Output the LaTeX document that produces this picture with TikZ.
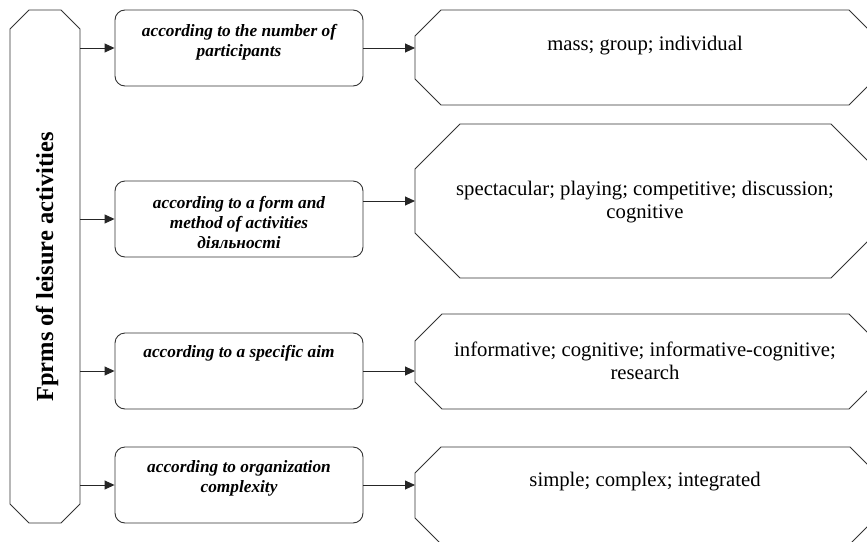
\documentclass[tikz,border=0pt]{standalone}
\usepackage{fontspec}
\setmainfont{Liberation Serif}
\usetikzlibrary{arrows.meta,calc}

% Octagonal outline drawn around a (borderless) rectangular node
\newcommand\chamferbox[2]{%
  \draw[frame] ($(#1.north west)+(#2,0)$) -- ($(#1.north east)+(-#2,0)$)
    -- ($(#1.north east)+(0,#2)$) -- ($(#1.south east)+(0,-#2)$)
    -- ($(#1.south east)+(-#2,0)$) -- ($(#1.south west)+(#2,0)$)
    -- ($(#1.south west)+(0,-#2)$) -- ($(#1.north west)+(0,#2)$) -- cycle;}

\begin{document}
\begin{tikzpicture}[x=1pt,y=-1pt,
  frame/.style={draw=black!80,line width=0.9pt},
  area/.style={inner sep=0pt,outer sep=0pt,minimum width=#1},
  midbox/.style={frame,rounded corners=10pt,inner sep=0pt,minimum width=248pt,minimum height=76pt},
  midtext/.style={align=center,inner sep=0pt,font=\fontsize{17.3}{20}\selectfont\bfseries\itshape},
  kindtext/.style={align=center,inner sep=0pt,font=\fontsize{20.7}{23}\selectfont},
  link/.style={draw=black!85,line width=0.9pt,-{Triangle[length=10pt,width=9pt]}}
]
\useasboundingbox (0,0) rectangle (867,541);

% root block
\node[area=70pt,minimum height=513pt] (root) at (45,266.5) {};
\chamferbox{root}{19}
\node[rotate=90,inner sep=0pt,font=\fontsize{24.5}{28}\selectfont\bfseries] (roottext) at (47,267) {Fprms of leisure activities};

% criteria
\node[midbox] (c1) at (239,48) {};
\node[midbox] (c2) at (239,219) {};
\node[midbox] (c3) at (239,371) {};
\node[midbox] (c4) at (239,485) {};
\node[midtext] (t1) at (239,42) {according to the number of\\participants};
\node[midtext] (t2) at (239,222) {according to a form and\\method of activities\\діяльності};
\node[midtext] (t3) at (239,353) {according to a specific aim};
\node[midtext] (t4) at (239,478) {according to organization\\complexity};

% kinds
\node[area=460pt,minimum height=95pt] (k1) at (645,57.5) {};
\node[area=461pt,minimum height=154pt] (k2) at (645.5,201) {};
\node[area=461pt,minimum height=95pt] (k3) at (645.5,361.5) {};
\node[area=461pt,minimum height=97pt] (k4) at (645.5,495.5) {};
\chamferbox{k1}{26}
\chamferbox{k2}{45}
\chamferbox{k3}{27}
\chamferbox{k4}{26}
\node[kindtext] (s1) at (645,46) {mass; group; individual};
\node[kindtext] (s2) at (645,202) {spectacular; playing; competitive; discussion;\\cognitive};
\node[kindtext] (s3) at (645,361) {informative; cognitive; informative-cognitive;\\research};
\node[kindtext] (s4) at (645,482) {simple; complex; integrated};

% connectors
\draw[link] (root.east |- c1.west) -- (c1.west);
\draw[link] (root.east |- c2.west) -- (c2.west);
\draw[link] (root.east |- c3.west) -- (c3.west);
\draw[link] (root.east |- c4.west) -- (c4.west);
\draw[link] (c1.east) -- (c1.east -| k1.west);
\draw[link] (c2.east |- k2.west) -- (k2.west);
\draw[link] (c3.east) -- (c3.east -| k3.west);
\draw[link] (c4.east) -- (c4.east -| k4.west);
\end{tikzpicture}
\end{document}
